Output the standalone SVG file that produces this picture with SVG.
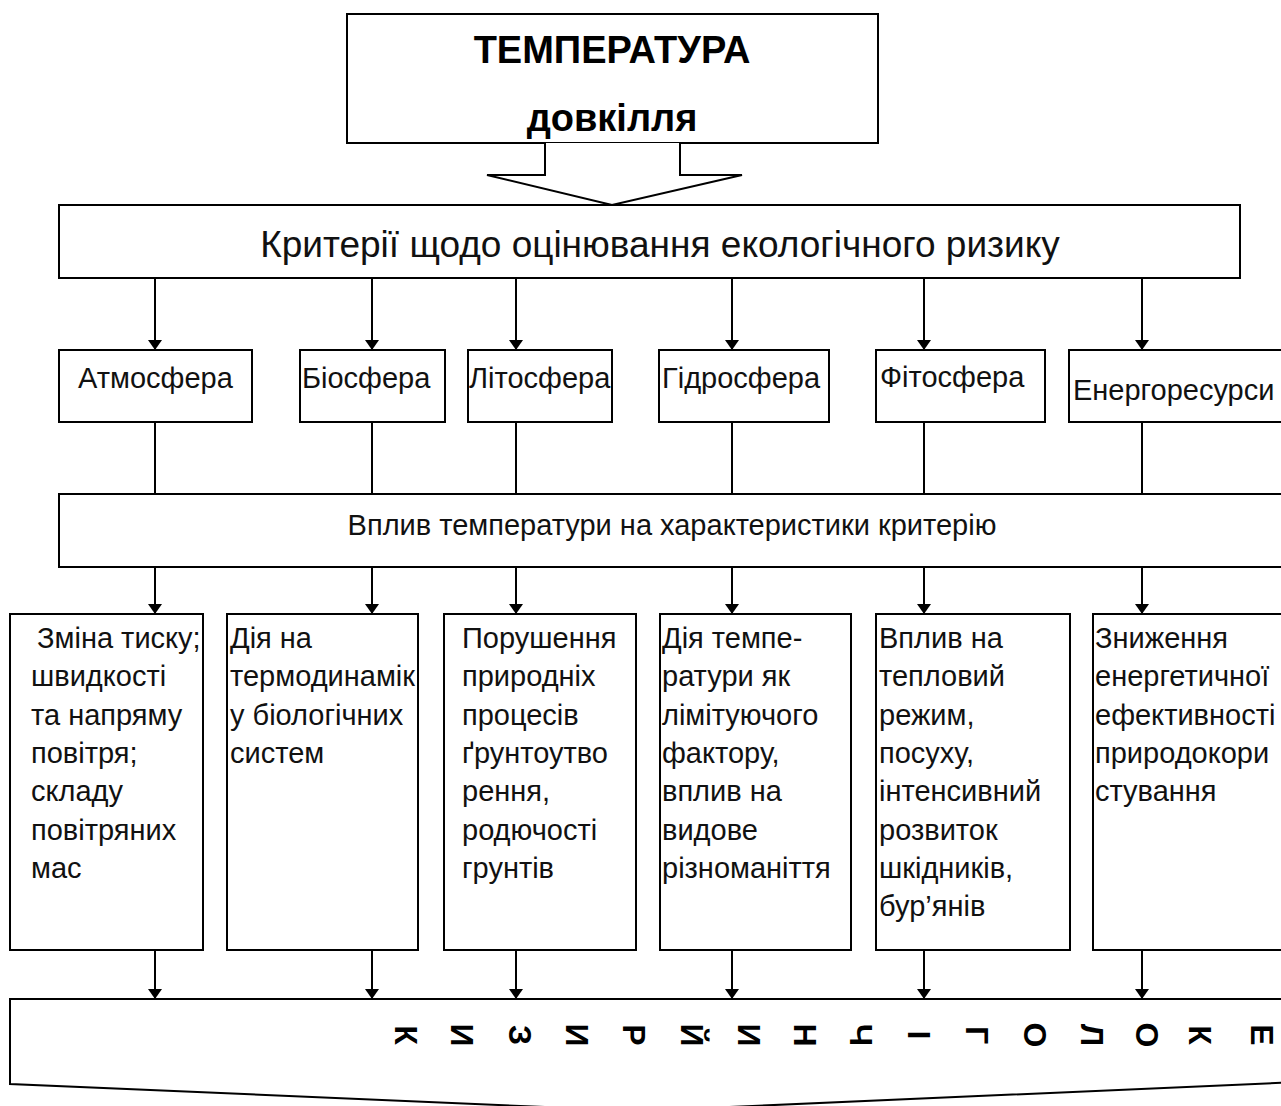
<svg xmlns="http://www.w3.org/2000/svg" width="1281" height="1106" viewBox="0 0 1281 1106">
<style>
  .box { fill: #fff; stroke: #000; stroke-width: 2; }
  .ln { stroke: #000; stroke-width: 2; fill: none; }
  .arr { stroke: #000; stroke-width: 2; fill: none; marker-end: url(#ah); }
  text { font-family: "Liberation Sans", Arial, sans-serif; fill: #111; }
  .title { font-size: 38px; font-weight: bold; text-anchor: middle; fill: #000; }
  .crit { font-size: 37px; text-anchor: middle; }
  .sph { font-size: 29px; }
  .infl { font-size: 29px; text-anchor: middle; }
  .det { font-size: 29px; }
  .let { font-size: 32px; font-weight: bold; text-anchor: middle; fill: #000; }
</style>
<defs>
  <marker id="ah" viewBox="0 0 10 14" refX="10" refY="7" markerWidth="10" markerHeight="14" markerUnits="userSpaceOnUse" orient="auto">
    <path d="M0,0 L10,7 L0,14 Z" fill="#000"/>
  </marker>
</defs>

<g id="temperature">
  <rect class="box" x="347" y="14" width="531" height="129"/>
  <text class="title" x="612" y="63">ТЕМПЕРАТУРА</text>
  <text class="title" x="612" y="131">довкілля</text>
</g>

<g id="criteria">
  <rect class="box" x="59" y="205" width="1181" height="73"/>
  <text class="crit" x="660" y="257">Критерії щодо оцінювання екологічного ризику</text>
</g>

<g id="atmosphere">
  <rect class="box" x="59" y="350" width="193" height="72"/>
  <text class="sph" x="78" y="388">Атмосфера</text>
</g>
<g id="biosphere">
  <rect class="box" x="300" y="350" width="145" height="72"/>
  <text class="sph" x="302" y="388">Біосфера</text>
</g>
<g id="lithosphere">
  <rect class="box" x="468" y="350" width="144" height="72"/>
  <text class="sph" x="469" y="388">Літосфера</text>
</g>
<g id="hydrosphere">
  <rect class="box" x="659" y="350" width="170" height="72"/>
  <text class="sph" x="662" y="388">Гідросфера</text>
</g>
<g id="phytosphere">
  <rect class="box" x="876" y="350" width="169" height="72"/>
  <text class="sph" x="880" y="387">Фітосфера</text>
</g>
<g id="energy">
  <rect class="box" x="1069" y="350" width="230" height="72"/>
  <text class="sph" x="1073" y="400">Енергоресурси</text>
</g>

<g id="influence">
  <rect class="box" x="59" y="494" width="1240" height="73"/>
  <text class="infl" x="672" y="535">Вплив температури на характеристики критерію</text>
</g>

<g id="d-atmosphere">
  <rect class="box" x="10" y="614" width="193" height="336"/>
  <text class="det" x="37" y="648">Зміна тиску;</text>
  <text class="det" x="31" y="686">швидкості</text>
  <text class="det" x="31" y="725">та напряму</text>
  <text class="det" x="31" y="763">повітря;</text>
  <text class="det" x="31" y="801">складу</text>
  <text class="det" x="31" y="840">повітряних</text>
  <text class="det" x="31" y="878">мас</text>
</g>
<g id="d-biosphere">
  <rect class="box" x="227" y="614" width="191" height="336"/>
  <text class="det" x="230" y="648">Дія на</text>
  <text class="det" x="230" y="686">термодинамік</text>
  <text class="det" x="230" y="725">у біологічних</text>
  <text class="det" x="230" y="763">систем</text>
</g>
<g id="d-lithosphere">
  <rect class="box" x="444" y="614" width="192" height="336"/>
  <text class="det" x="462" y="648">Порушення</text>
  <text class="det" x="462" y="686">природніх</text>
  <text class="det" x="462" y="725">процесів</text>
  <text class="det" x="462" y="763">ґрунтоутво</text>
  <text class="det" x="462" y="801">рення,</text>
  <text class="det" x="462" y="840">родючості</text>
  <text class="det" x="462" y="878">грунтів</text>
</g>
<g id="d-hydrosphere">
  <rect class="box" x="660" y="614" width="191" height="336"/>
  <text class="det" x="662" y="648">Дія темпе-</text>
  <text class="det" x="662" y="686">ратури як</text>
  <text class="det" x="662" y="725">лімітуючого</text>
  <text class="det" x="662" y="763">фактору,</text>
  <text class="det" x="662" y="801">вплив на</text>
  <text class="det" x="662" y="840">видове</text>
  <text class="det" x="662" y="878">різноманіття</text>
</g>
<g id="d-phytosphere">
  <rect class="box" x="876" y="614" width="194" height="336"/>
  <text class="det" x="879" y="648">Вплив на</text>
  <text class="det" x="879" y="686">тепловий</text>
  <text class="det" x="879" y="725">режим,</text>
  <text class="det" x="879" y="763">посуху,</text>
  <text class="det" x="879" y="801">інтенсивний</text>
  <text class="det" x="879" y="840">розвиток</text>
  <text class="det" x="879" y="878">шкідників,</text>
  <text class="det" x="879" y="916">бур’янів</text>
</g>
<g id="d-energy">
  <rect class="box" x="1093" y="614" width="206" height="336"/>
  <text class="det" x="1095" y="648">Зниження</text>
  <text class="det" x="1095" y="686">енергетичної</text>
  <text class="det" x="1095" y="725">ефективності</text>
  <text class="det" x="1095" y="763">природокори</text>
  <text class="det" x="1095" y="801">стування</text>
</g>

<g id="risk">
  <path class="box" d="M10,999 L1299,999 L1299,1082 L638,1111 L10,1084 Z"/>
  <g transform="translate(406,1035) rotate(90)"><text class="let" x="0" y="11.5">К</text></g>
  <g transform="translate(462,1035) rotate(90)"><text class="let" x="0" y="11.5">И</text></g>
  <g transform="translate(520,1035) rotate(90)"><text class="let" x="0" y="11.5">З</text></g>
  <g transform="translate(577,1035) rotate(90)"><text class="let" x="0" y="11.5">И</text></g>
  <g transform="translate(634,1035) rotate(90)"><text class="let" x="0" y="11.5">Р</text></g>
  <g transform="translate(692,1035) rotate(90)"><text class="let" x="0" y="11.5">Й</text></g>
  <g transform="translate(749,1035) rotate(90)"><text class="let" x="0" y="11.5">И</text></g>
  <g transform="translate(805,1035) rotate(90)"><text class="let" x="0" y="11.5">Н</text></g>
  <g transform="translate(861,1035) rotate(90)"><text class="let" x="0" y="11.5">Ч</text></g>
  <g transform="translate(919,1035) rotate(90)"><text class="let" x="0" y="11.5">І</text></g>
  <g transform="translate(977,1035) rotate(90)"><text class="let" x="0" y="11.5">Г</text></g>
  <g transform="translate(1035,1035) rotate(90)"><text class="let" x="0" y="11.5">О</text></g>
  <g transform="translate(1092,1035) rotate(90)"><text class="let" x="0" y="11.5">Л</text></g>
  <g transform="translate(1147,1035) rotate(90)"><text class="let" x="0" y="11.5">О</text></g>
  <g transform="translate(1200,1035) rotate(90)"><text class="let" x="0" y="11.5">К</text></g>
  <g transform="translate(1262,1035) rotate(90)"><text class="let" x="0" y="11.5">Е</text></g>
</g>

<g id="connectors">
  <path class="ln" d="M545,143 V175 H487 L612,205 L742,175 H680 V143" style="fill:#fff"/>
  <line class="arr" x1="155" y1="278" x2="155" y2="350"/>
  <line class="arr" x1="372" y1="278" x2="372" y2="350"/>
  <line class="arr" x1="516" y1="278" x2="516" y2="350"/>
  <line class="arr" x1="732" y1="278" x2="732" y2="350"/>
  <line class="arr" x1="924" y1="278" x2="924" y2="350"/>
  <line class="arr" x1="1142" y1="278" x2="1142" y2="350"/>
  <line class="ln" x1="155" y1="422" x2="155" y2="494"/>
  <line class="ln" x1="372" y1="422" x2="372" y2="494"/>
  <line class="ln" x1="516" y1="422" x2="516" y2="494"/>
  <line class="ln" x1="732" y1="422" x2="732" y2="494"/>
  <line class="ln" x1="924" y1="422" x2="924" y2="494"/>
  <line class="ln" x1="1142" y1="422" x2="1142" y2="494"/>
  <line class="arr" x1="155" y1="567" x2="155" y2="614"/>
  <line class="arr" x1="372" y1="567" x2="372" y2="614"/>
  <line class="arr" x1="516" y1="567" x2="516" y2="614"/>
  <line class="arr" x1="732" y1="567" x2="732" y2="614"/>
  <line class="arr" x1="924" y1="567" x2="924" y2="614"/>
  <line class="arr" x1="1142" y1="567" x2="1142" y2="614"/>
  <line class="arr" x1="155" y1="950" x2="155" y2="999"/>
  <line class="arr" x1="372" y1="950" x2="372" y2="999"/>
  <line class="arr" x1="516" y1="950" x2="516" y2="999"/>
  <line class="arr" x1="732" y1="950" x2="732" y2="999"/>
  <line class="arr" x1="924" y1="950" x2="924" y2="999"/>
  <line class="arr" x1="1142" y1="950" x2="1142" y2="999"/>
</g>
</svg>
